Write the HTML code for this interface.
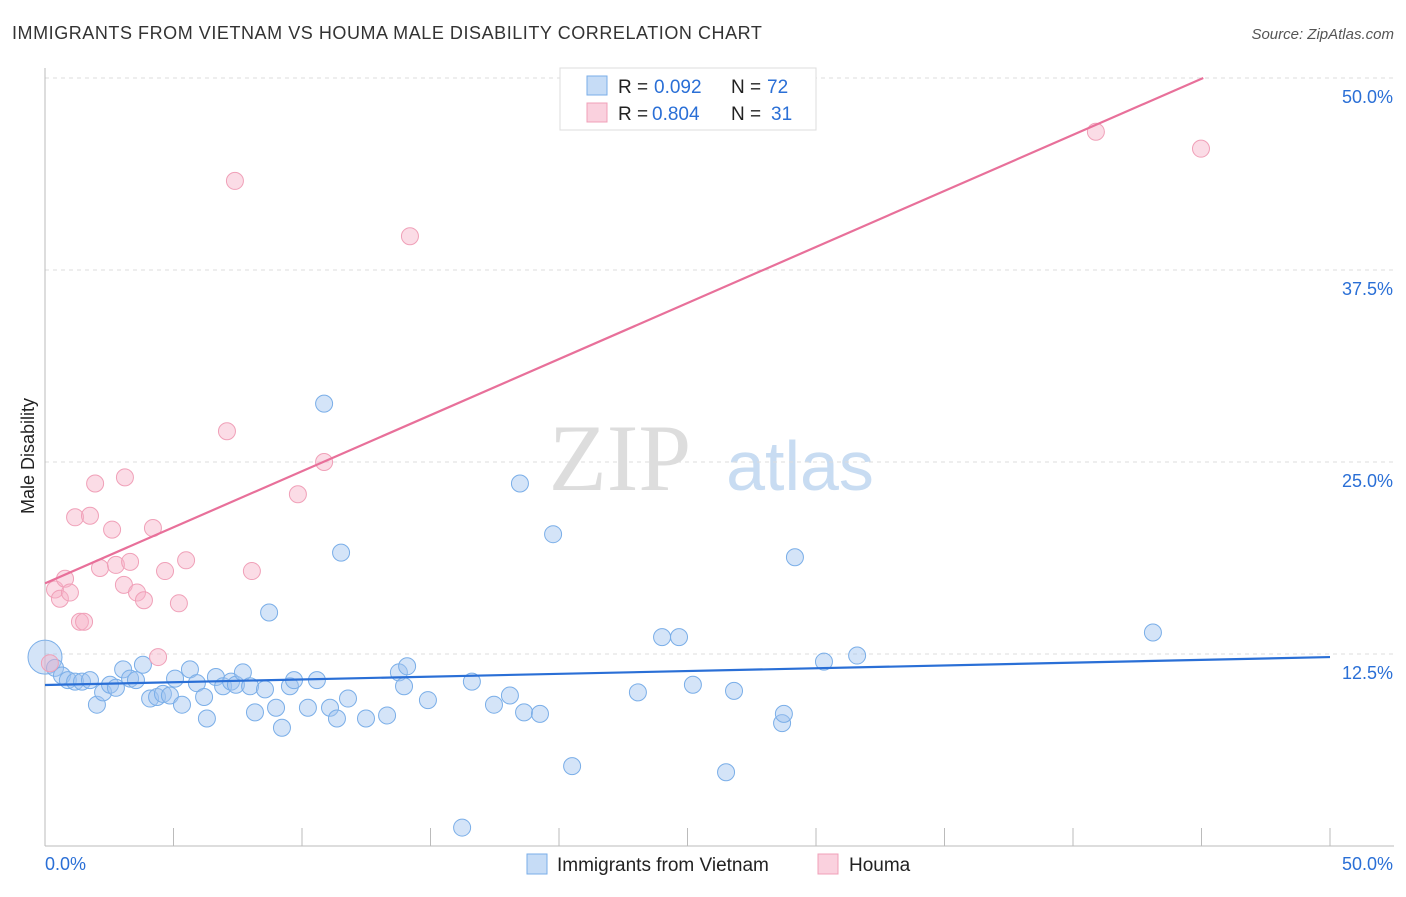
<!DOCTYPE html>
<html><head><meta charset="utf-8"><style>
body{margin:0;background:#fff;font-family:"Liberation Sans",sans-serif}
svg text{font-family:"Liberation Sans",sans-serif}
</style></head><body>
<svg width="1406" height="892" xmlns="http://www.w3.org/2000/svg">
<text x="12" y="39" font-size="18" letter-spacing="0.55" fill="#333">IMMIGRANTS FROM VIETNAM VS HOUMA MALE DISABILITY CORRELATION CHART</text>
<text x="1394" y="39" font-size="15" fill="#555" text-anchor="end" font-style="italic">Source: ZipAtlas.com</text>
<text x="620" y="490" font-size="95" fill="#ddd" text-anchor="middle" style="font-family:'Liberation Serif',serif">ZIP</text>
<text x="800" y="490" font-size="70" fill="#c8dcf2" text-anchor="middle">atlas</text>
<g id="grid"></g>
<g id="axes"></g>
<text transform="translate(34,456) rotate(-90)" font-size="18" fill="#222" text-anchor="middle">Male Disability</text>
<g id="marks"></g>
<g>
<rect x="560" y="68" width="256" height="62" fill="#fff" stroke="#ddd"/>
<rect x="587" y="76" width="20" height="19" fill="rgba(160,196,240,0.6)" stroke="#7aaee8"/>
<text x="618" y="93" font-size="19" fill="#222">R =</text>
<text x="654" y="93" font-size="19" fill="#2a6fd6">0.092</text>
<text x="731" y="93" font-size="19" fill="#222">N =</text>
<text x="767" y="93" font-size="19" fill="#2a6fd6">72</text>
<rect x="587" y="103" width="20" height="19" fill="rgba(246,178,200,0.6)" stroke="#f0a0b8"/>
<text x="618" y="120" font-size="19" fill="#222">R =</text>
<text x="652" y="120" font-size="19" fill="#2a6fd6">0.804</text>
<text x="731" y="120" font-size="19" fill="#222">N =</text>
<text x="771" y="120" font-size="19" fill="#2a6fd6">31</text>
</g>
<g>
<rect x="527" y="854" width="20" height="20" fill="rgba(160,196,240,0.6)" stroke="#7aaee8"/>
<text x="557" y="871" font-size="19" fill="#222">Immigrants from Vietnam</text>
<rect x="818" y="854" width="20" height="20" fill="rgba(246,178,200,0.6)" stroke="#f0a0b8"/>
<text x="849" y="871" font-size="19" fill="#222">Houma</text>
</g>
</svg>
<script>
const yTicks=[12.5,25.0,37.5,50.0];
const yTickLabels=["12.5%","25.0%","37.5%","50.0%"];
const xTickLabels=["0.0%","50.0%"];
const blueX=[0.0,0.39,0.66,0.89,1.17,1.44,1.75,2.02,2.26,2.53,2.76,3.04,3.31,3.54,3.81,4.09,4.36,4.59,4.86,5.06,5.33,5.64,5.91,6.19,6.30,6.65,6.93,7.24,7.43,7.70,7.98,8.17,8.56,8.72,8.99,9.22,9.53,9.69,10.23,10.58,10.86,11.09,11.36,11.52,11.79,12.49,13.31,13.77,13.97,14.09,14.90,16.23,16.61,17.47,18.09,18.48,18.64,19.26,19.77,20.51,23.07,24.01,24.67,25.21,26.50,26.81,28.68,28.75,29.18,30.31,31.60,43.11];
const blueY=[12.3,11.6,11.1,10.8,10.7,10.7,10.8,9.2,10.0,10.5,10.3,11.5,10.9,10.8,11.8,9.6,9.7,9.9,9.8,10.9,9.2,11.5,10.6,9.7,8.3,11.0,10.4,10.7,10.5,11.3,10.4,8.7,10.2,15.2,9.0,7.7,10.4,10.8,9.0,10.8,28.8,9.0,8.3,19.1,9.6,8.3,8.5,11.3,10.4,11.7,9.5,1.2,10.7,9.2,9.8,23.6,8.7,8.6,20.3,5.2,10.0,13.6,13.6,10.5,4.8,10.1,8.0,8.6,18.8,12.0,12.4,13.9];
const pinkX=[0.19,0.39,0.58,0.78,0.97,1.17,1.36,1.52,1.75,1.95,2.14,2.61,2.76,3.07,3.11,3.31,3.58,3.85,4.20,4.40,4.67,5.21,5.49,7.08,7.39,8.05,9.84,10.86,14.20,40.89,44.98];
const pinkY=[11.9,16.7,16.1,17.4,16.5,21.4,14.6,14.6,21.5,23.6,18.1,20.6,18.3,17.0,24.0,18.5,16.5,16.0,20.7,12.3,17.9,15.8,18.6,27.0,43.3,17.9,22.9,25.0,39.7,46.5,45.4];
const blueLine=[10.48,12.3];
const pinkLine=[17.1,0.73];
const NS="http://www.w3.org/2000/svg";
const X=v=>45+v*25.7, Y=v=>846-v*15.36;
function mk(p,t,a){const e=document.createElementNS(NS,t);for(const k in a)e.setAttribute(k,a[k]);p.appendChild(e);return e;}
const grid=document.getElementById('grid'),axes=document.getElementById('axes'),marks=document.getElementById('marks');
yTicks.forEach((t,i)=>{
 const l=mk(grid,'line',{x1:45,x2:1394,y1:Y(t),y2:Y(t),stroke:'#ddd','stroke-dasharray':'4,4'});
 
 
 const tx=mk(axes,'text',{x:1393,y:Y(t)+25,'font-size':18,fill:'#2a6fd6','text-anchor':'end'});
 tx.textContent=yTickLabels[i];
 
 
});
const ax=mk(axes,'line',{x1:45,x2:1394,y1:846,y2:846,stroke:'#bbb'});


const ay=mk(axes,'line',{x1:45,x2:45,y1:68,y2:846,stroke:'#bbb'});


for(let v=5;v<=50;v+=5){
 const tk=mk(axes,'line',{x1:X(v),x2:X(v),y1:828,y2:846,stroke:'#bbb'});
 
 
}
[[0,'start',45],[50,'end',1393]].forEach((d,i)=>{
 const tx=mk(axes,'text',{x:d[2],y:870,'font-size':18,fill:'#2a6fd6','text-anchor':d[1]});
 tx.textContent=xTickLabels[i];
 
 
});
blueX.forEach((x,i)=>{
 const c=mk(marks,'circle',{cx:X(x),cy:Y(blueY[i]),r:i===0?17:8.5,fill:'rgba(160,196,240,0.45)',stroke:'#7aaee8','stroke-width':1});
 
 
});
pinkX.forEach((x,i)=>{
 const c=mk(marks,'circle',{cx:X(x),cy:Y(pinkY[i]),r:8.5,fill:'rgba(246,178,200,0.45)',stroke:'#f0a0b8','stroke-width':1});
 
 
});
const bl=mk(marks,'line',{x1:X(0),y1:Y(blueLine[0]),x2:X(50),y2:Y(blueLine[1]),stroke:'#2a6fd6','stroke-width':2.2});


const xe=(50-pinkLine[0])/pinkLine[1];
const pl=mk(marks,'line',{x1:X(0),y1:Y(pinkLine[0]),x2:X(xe),y2:Y(50),stroke:'#e8709a','stroke-width':2.2});


</script>
</body></html>
